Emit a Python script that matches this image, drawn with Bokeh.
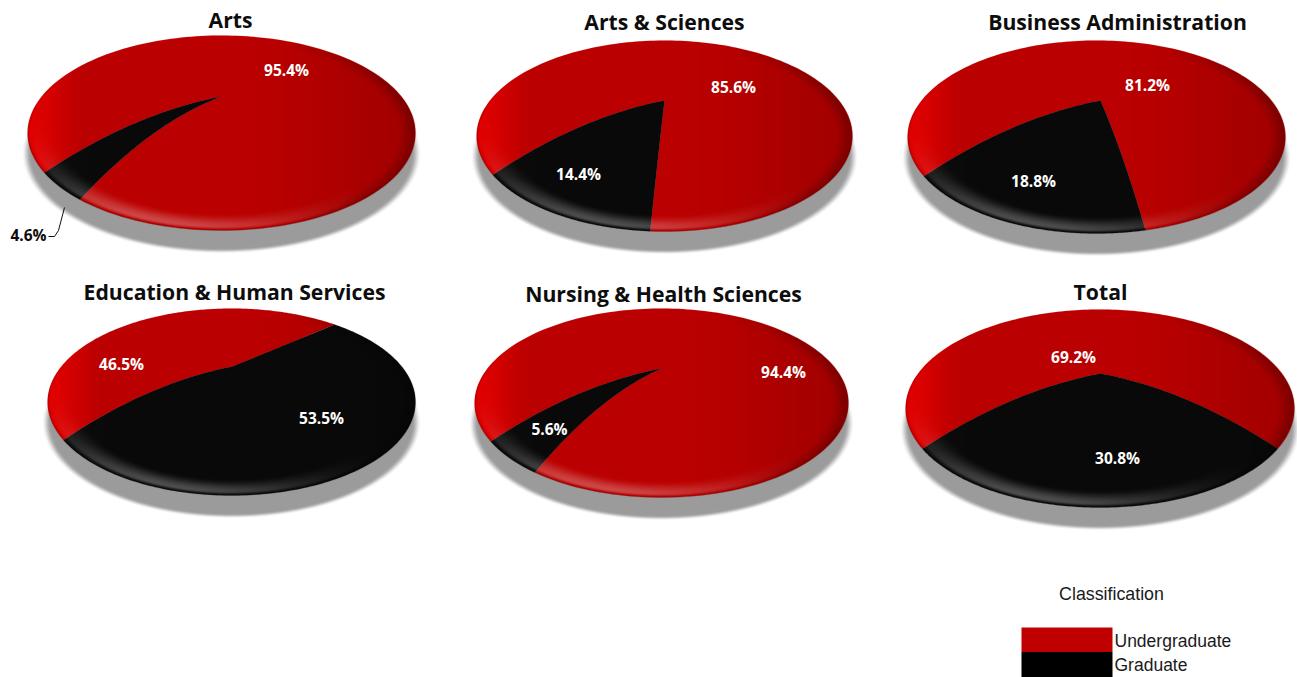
import numpy as np
from bokeh.embed import file_html
from bokeh.models import Range1d
from bokeh.plotting import figure
from bokeh.resources import INLINE
from bokeh.core.properties import value

# ---- data ----
titles = ["Arts", "Arts & Sciences", "Business Administration",
          "Education & Human Services", "Nursing & Health Sciences", "Total"]
undergraduate = [95.4, 85.6, 81.2, 46.5, 94.4, 69.2]
graduate = [4.6, 14.4, 18.8, 53.5, 5.6, 30.8]
legend_title = "Classification"
series_names = ["Undergraduate", "Graduate"]

# ---- layout (reference pixels) ----
W, H = 1297, 677
pie_cx = [221, 664, 1096, 231, 661, 1099.5]
pie_cy = [132.5, 135.5, 136.5, 401.5, 402.5, 408]
pie_rx = [194, 188, 189, 184, 187, 194.5]
pie_ry = [97.5, 95.5, 96.5, 93.5, 94.5, 99]
apex_x = [221, 664, 1100, 232, 661, 1100]
apex_y = [96, 100, 100, 366, 368, 373]
title_xy = [(230, 19), (664, 21), (1117, 21), (234, 291), (663, 293), (1100, 291)]
ug_label_xy = [(286, 69), (733, 86), (1147, 84), (121, 363), (783, 371), (1073, 356)]
gr_label_xy = [(28, 234), (578, 173), (1033, 180), (321, 417), (549, 428), (1117, 457)]
START = -55.4
RED, BLACK = "#e00000", "#0c0c0c"
SHADOW = np.array([155, 155, 155])


def Y(y):
    return H - np.asarray(y, dtype=float)


p = figure(width=W, height=H, x_range=Range1d(0, W), y_range=Range1d(0, H),
           toolbar_location=None, output_backend="svg", min_border=0,
           background_fill_color="white", border_fill_color="white", outline_line_color=None)
p.axis.visible = False
p.grid.visible = False


def smooth(a, b, v):
    s = np.clip((v - a) / (b - a), 0, 1)
    return s * s * (3 - 2 * s)


def rgba_image(r, g, b, a):
    img = np.zeros(a.shape + (4,), dtype=np.uint8)
    img[..., 0], img[..., 1], img[..., 2] = r, g, b
    img[..., 3] = np.clip(a * 255, 0, 255)
    return np.flipud(img).view(dtype=np.uint32).reshape(a.shape)


def surface_angle(phi):
    # turn angle -> position on the tilted outline
    return phi + 12.8 * np.sin(np.radians(phi))


def rim_point(i, phi):
    t = np.radians(surface_angle(phi))
    return pie_cx[i] + pie_rx[i] * np.sin(t), pie_cy[i] + pie_ry[i] * np.cos(t)


def edge(i, phi, n=40):
    ex, ey = rim_point(i, phi)
    dx, dy = ex - apex_x[i], ey - apex_y[i]
    b = 0.6 * abs(dx) / np.hypot(dx, dy) if dy > 0 else 0.0
    r = np.linspace(0, 1, n)
    return apex_x[i] + dx * r, apex_y[i] + dy * ((1 - b) * r + b * r ** 2)


def wedge(i, phi0, phi1):
    ax, ay = edge(i, phi0)
    bx, by = edge(i, phi1)
    phis = np.linspace(phi0, phi1, 180)
    rim = [rim_point(i, f) for f in phis]
    xs = np.concatenate([ax, [q[0] for q in rim], bx[::-1]])
    ys = np.concatenate([ay, [q[1] for q in rim], by[::-1]])
    return xs, ys


for i in range(6):
    cx, cy, rx, ry = pie_cx[i], pie_cy[i], pie_rx[i], pie_ry[i]
    x0, x1 = int(cx - rx - 8), int(cx + rx + 9)
    y0, y1 = int(cy - ry - 4), int(cy + ry + 32)
    gx, gy = np.meshgrid(np.arange(x0, x1) + .5, np.arange(y0, y1) + .5)

    # soft drop shadow
    sx, sy = (gx - cx) / (rx + 1), (gy - cy - 20.5) / ry
    se = np.sqrt(sx ** 2 + sy ** 2)
    sa = 1 - smooth(0.975, 1.025, se)
    p.image_rgba(image=[rgba_image(*SHADOW, sa)], x=x0, y=float(Y(y1)), dw=x1 - x0, dh=y1 - y0)

    # slices, from the values
    boundary = START + graduate[i] * 3.6
    xs, ys = wedge(i, boundary, START + 360)
    p.patch(xs, Y(ys), fill_color=RED, line_color=None)
    xs, ys = wedge(i, START, boundary)
    p.patch(xs, Y(ys), fill_color=BLACK, line_color=None)

    # dome shading on top of the slices
    X, Y_ = (gx - cx) / rx, (gy - cy) / ry
    e = np.sqrt(X ** 2 + Y_ ** 2)
    safe = np.maximum(e, 1e-6)
    n = (X * -0.35 + Y_ * 0.94) / safe
    h = np.clip((X + 1) / 2, 0, 1)
    D = 0.17 - 0.17 * (1 - smooth(0.0, 0.16, h)) + 0.1 * smooth(0.55, 1.0, h)
    D = D + 0.18 * smooth(0.9, 1, e) * smooth(0.6, 1, h)
    D = 1 - (1 - D) * (1 - 0.3 * smooth(0.985, 1.0, e) * np.clip(n + 0.3, 0, 1))
    band = smooth(0.82, 0.96, e) * (1 - smooth(0.96, 0.995, e))
    L = 0.28 * band * np.clip(n, 0, 1) ** 3
    A = L + D * (1 - L)
    C = np.where(A > 0, 255 * L / np.maximum(A, 1e-6), 0)
    mask = 1 - smooth(0.995, 1.005, e)
    img = np.zeros(A.shape + (4,), dtype=np.uint8)
    img[..., 0] = img[..., 1] = img[..., 2] = C
    img[..., 3] = np.clip(A * mask * 255, 0, 255)
    img = np.flipud(img).view(dtype=np.uint32).reshape(A.shape)
    p.image_rgba(image=[img], x=x0, y=float(Y(y1)), dw=x1 - x0, dh=y1 - y0)

    # texts
    p.text([title_xy[i][0]], Y([title_xy[i][1]]), text=[titles[i]], text_font=value("Open Sans"),
           text_font_style="bold", text_font_size="21.2px", text_color="#0d0d0d",
           text_align="center", text_baseline="middle")
    p.text([ug_label_xy[i][0]], Y([ug_label_xy[i][1]]), text=[f"{undergraduate[i]:.1f}%"],
           text_font=value("Open Sans"), text_font_style="bold", text_font_size="15.5px",
           text_color="white", text_align="center", text_baseline="middle")
    p.text([gr_label_xy[i][0]], Y([gr_label_xy[i][1]]), text=[f"{graduate[i]:.1f}%"],
           text_font=value("Open Sans"), text_font_style="bold", text_font_size="15.5px",
           text_color="#0d0d0d" if i == 0 else "white", text_align="center", text_baseline="middle")

# leader line of the small slice
p.line([64, 58, 54, 48], Y([207, 230, 236, 236]), line_color="#111111", line_width=1)

# legend
p.quad(left=[1021], right=[1112], top=Y([627]), bottom=Y([651.5]), fill_color="#c00000", line_color=None)
p.quad(left=[1021], right=[1112], top=Y([651.5]), bottom=Y([677]), fill_color="#000000", line_color=None)
p.text([1111], Y([593]), text=[legend_title], text_font=value("Liberation Sans"), text_font_size="17.8px",
       text_color="#1a1a1a", text_align="center", text_baseline="middle")
p.text([1114, 1114], Y([640, 664]), text=series_names, text_font=value("Liberation Sans"),
       text_font_size="17.5px", text_color="#1a1a1a", text_align="left", text_baseline="middle")

open("out.html", "w").write(file_html(p, INLINE))
